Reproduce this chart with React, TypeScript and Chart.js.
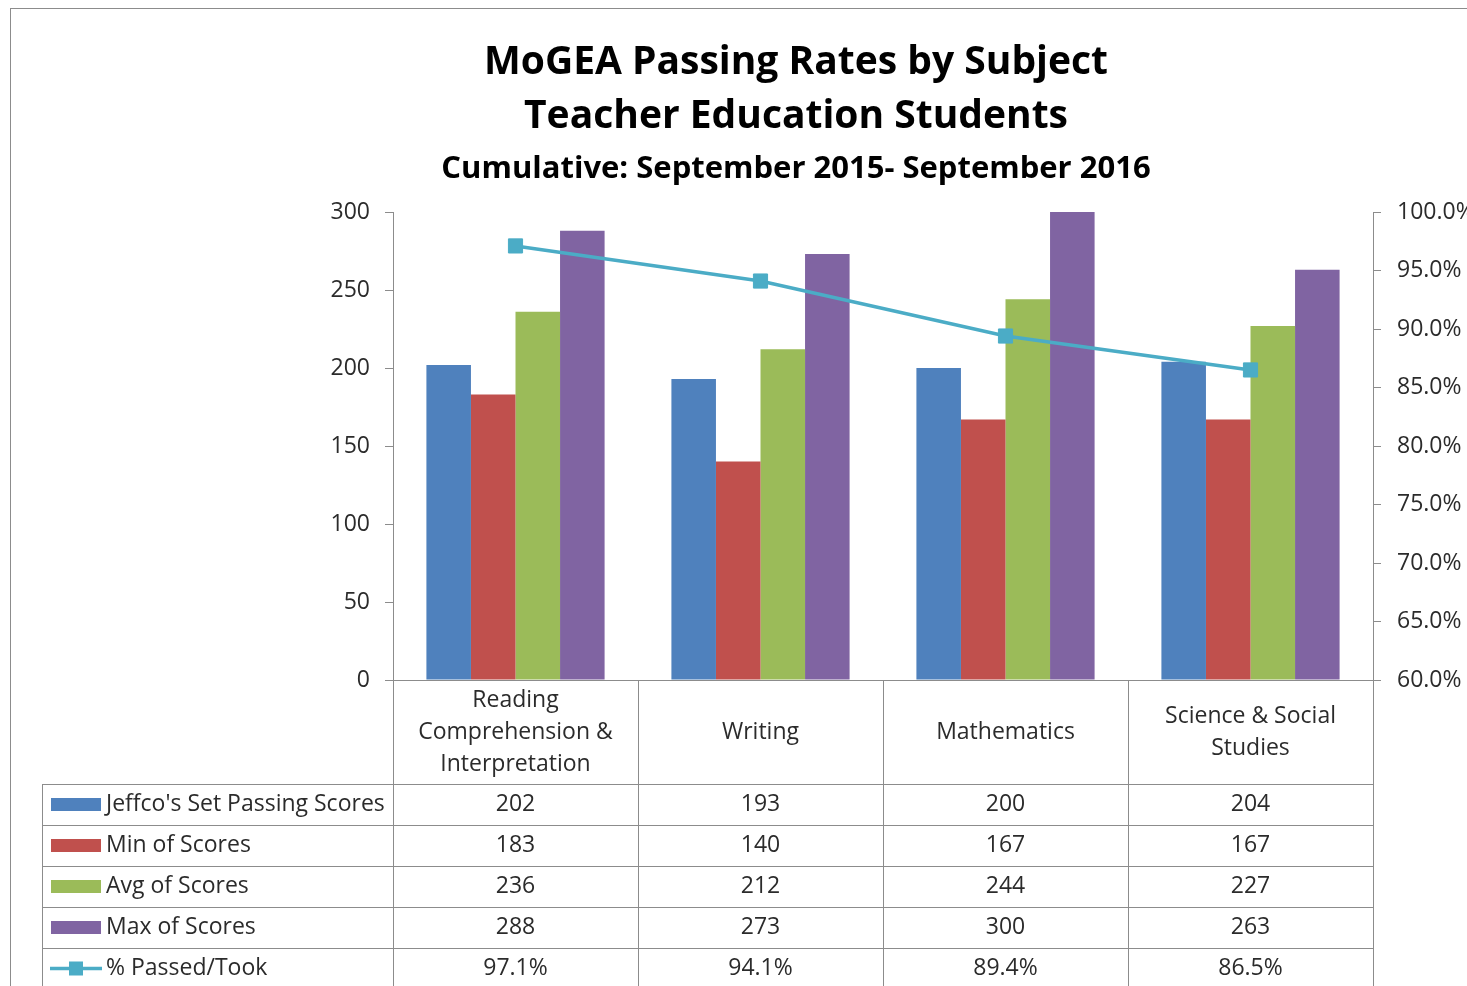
import React, { useEffect, useRef } from "react";
import { Chart, registerables } from "chart.js";

Chart.register(...registerables);

// ---- Data ----
const categoryLines: string[][] = [
  ["Reading", "Comprehension &", "Interpretation"],
  ["Writing"],
  ["Mathematics"],
  ["Science & Social", "Studies"],
];
const seriesNames = [
  "Jeffco's Set Passing Scores",
  "Min of Scores",
  "Avg of Scores",
  "Max of Scores",
];
const jeffcoScores = [202, 193, 200, 204];
const minScores = [183, 140, 167, 167];
const avgScores = [236, 212, 244, 227];
const maxScores = [288, 273, 300, 263];
const passedPct = [97.1, 94.1, 89.4, 86.5];
const lineName = "% Passed/Took";
const titleLines = ["MoGEA Passing Rates by Subject", "Teacher Education Students"];
const subtitleText = "Cumulative: September 2015- September 2016";

// ---- Styles ----
const barColors = ["#4F81BD", "#C0504D", "#9BBB59", "#8064A2"];
const lineColor = "#4BACC6";
const gridColor = "#8C8C8C";
const textColor = "#2B2B2B";
const bodyFont = "'Open Sans', 'Noto Sans', sans-serif";

const CANVAS_W = 1600;
const CANVAS_H = 1010;

const framePlugin = {
  id: "frame",
  beforeDraw(chart: any) {
    const ctx = chart.ctx;
    ctx.save();
    ctx.fillStyle = "#ffffff";
    ctx.fillRect(0, 0, chart.width, chart.height);
    ctx.strokeStyle = gridColor;
    ctx.lineWidth = 1;
    ctx.strokeRect(10.5, 8.5, 1572, 995);
    ctx.restore();
  },
};

const tablePlugin = {
  id: "dataTable",
  afterDraw(chart: any) {
    const ctx = chart.ctx;
    const area = chart.chartArea;
    const xs = chart.scales.x;
    const n = categoryLines.length;
    const colW = (area.right - area.left) / n;
    const headerH = 104;
    const rowH = 41;
    const rowValues = [jeffcoScores, minScores, avgScores, maxScores, passedPct];
    const rows = rowValues.length;
    const tableLeft = 42;
    const headerBottom = area.bottom + headerH;
    const tableBottom = headerBottom + rows * rowH;

    ctx.save();
    ctx.strokeStyle = gridColor;
    ctx.lineWidth = 1;
    ctx.beginPath();
    for (let i = 0; i <= n; i++) {
      const px = Math.round(area.left + i * colW) + 0.5;
      ctx.moveTo(px, area.bottom);
      ctx.lineTo(px, tableBottom);
    }
    ctx.moveTo(tableLeft + 0.5, headerBottom);
    ctx.lineTo(tableLeft + 0.5, tableBottom);
    for (let r = 0; r <= rows; r++) {
      const py = Math.round(headerBottom + r * rowH) + 0.5;
      ctx.moveTo(tableLeft, py);
      ctx.lineTo(Math.round(area.right) + 1, py);
    }
    ctx.stroke();

    // header labels
    ctx.fillStyle = textColor;
    ctx.font = `23px ${bodyFont}`;
    ctx.textAlign = "center";
    ctx.textBaseline = "middle";
    const headerMid = (area.bottom + headerBottom) / 2;
    const lh = 32;
    categoryLines.forEach((lines, i) => {
      const cx = xs.getPixelForValue(i);
      const start = headerMid - ((lines.length - 1) * lh) / 2;
      lines.forEach((t, k) => ctx.fillText(t, cx, start + k * lh));
    });

    // rows
    for (let r = 0; r < rows; r++) {
      const cy = headerBottom + r * rowH + rowH / 2;
      // legend key
      if (r < 4) {
        ctx.fillStyle = barColors[r];
        ctx.fillRect(51, Math.round(cy - 6.5), 50, 13);
      } else {
        ctx.strokeStyle = lineColor;
        ctx.lineWidth = 3.5;
        ctx.beginPath();
        ctx.moveTo(50, cy);
        ctx.lineTo(102, cy);
        ctx.stroke();
        ctx.fillStyle = lineColor;
        ctx.fillRect(69, cy - 7, 14, 14);
      }
      ctx.fillStyle = textColor;
      ctx.textAlign = "left";
      ctx.fillText(r < 4 ? seriesNames[r] : lineName, 106, cy);
      ctx.textAlign = "center";
      rowValues[r].forEach((v, i) => {
        const txt = r < 4 ? String(v) : v.toFixed(1) + "%";
        ctx.fillText(txt, xs.getPixelForValue(i), cy);
      });
    }
    ctx.restore();
  },
};

export default function App() {
  const canvasRef = useRef<HTMLCanvasElement | null>(null);

  useEffect(() => {
    if (!canvasRef.current) return;
    const barSets = [jeffcoScores, minScores, avgScores, maxScores].map((d, i) => ({
      type: "bar" as const,
      label: seriesNames[i],
      data: d,
      backgroundColor: barColors[i],
      borderWidth: 0,
      yAxisID: "y",
      categoryPercentage: 4 / 5.5,
      barPercentage: 1.0,
      order: 2,
    }));
    const chart = new Chart(canvasRef.current, {
      type: "bar",
      data: {
        labels: categoryLines.map((l) => l.join(" ")),
        datasets: [
          ...barSets,
          {
            type: "line" as const,
            label: lineName,
            data: passedPct,
            borderColor: lineColor,
            backgroundColor: lineColor,
            borderWidth: 3.5,
            pointStyle: "rect",
            pointRadius: 10,
            pointBackgroundColor: lineColor,
            pointBorderColor: lineColor,
            pointBorderWidth: 1,
            tension: 0,
            fill: false,
            yAxisID: "y1",
            order: 1,
          } as any,
        ],
      },
      options: {
        responsive: false,
        animation: false,
        devicePixelRatio: 1,
        layout: { padding: { left: 10, right: 18, top: 8, bottom: 0 } },
        plugins: {
          legend: { display: false },
          tooltip: { enabled: false },
          title: {
            display: true,
            text: titleLines,
            color: "#000000",
            font: { family: bodyFont, weight: "bold", size: 39, lineHeight: "54px" },
            padding: { top: 28, bottom: 0 },
          },
          subtitle: {
            display: true,
            text: subtitleText,
            color: "#000000",
            font: { family: bodyFont, weight: "bold", size: 31, lineHeight: "32px" },
            padding: { top: 9, bottom: 27 },
          },
        },
        scales: {
          x: {
            type: "category",
            offset: true,
            grid: { display: false },
            ticks: { display: false },
            border: { display: true, color: gridColor, width: 1 },
            afterFit: (s: any) => {
              s.height = 330;
            },
          },
          y: {
            type: "linear",
            position: "left",
            min: 0,
            max: 300,
            ticks: {
              stepSize: 50,
              padding: 15,
              color: textColor,
              font: { family: bodyFont, size: 23 },
            },
            grid: { drawOnChartArea: false, drawTicks: true, tickLength: 8, color: gridColor },
            border: { display: true, color: gridColor, width: 1 },
            afterFit: (s: any) => {
              s.width = 383;
            },
          },
          y1: {
            type: "linear",
            position: "right",
            min: 60,
            max: 100,
            ticks: {
              stepSize: 5,
              padding: 16,
              color: textColor,
              font: { family: bodyFont, size: 23 },
              callback: (v: any) => Number(v).toFixed(1) + "%",
            },
            grid: { drawOnChartArea: false, drawTicks: true, tickLength: 8, color: gridColor },
            border: { display: true, color: gridColor, width: 1 },
            afterFit: (s: any) => {
              s.width = 209;
            },
          },
        },
      },
      plugins: [framePlugin, tablePlugin],
    });
    return () => chart.destroy();
  }, []);

  return (
    <div
      style={{
        position: "fixed",
        left: 0,
        top: 0,
        width: 1467,
        height: 986,
        overflow: "hidden",
        background: "#ffffff",
      }}
    >
      <canvas
        ref={canvasRef}
        width={CANVAS_W}
        height={CANVAS_H}
        style={{ display: "block", width: CANVAS_W, height: CANVAS_H }}
      />
    </div>
  );
}
